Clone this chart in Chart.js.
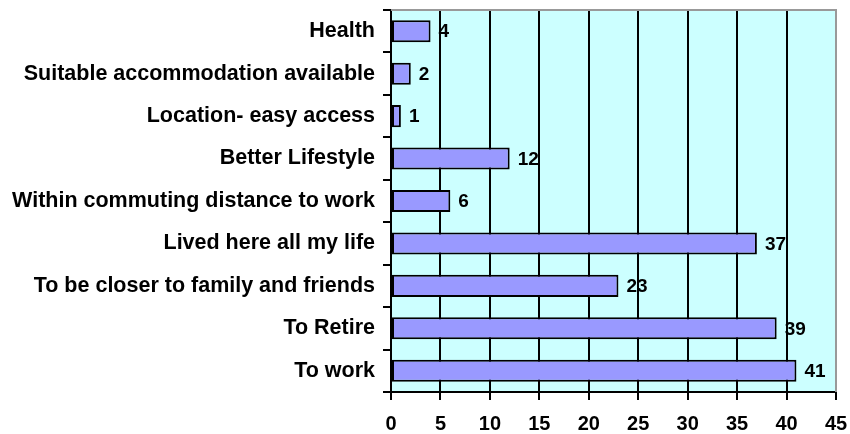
<!DOCTYPE html>
<html><head><meta charset="utf-8">
<script src="https://cdn.jsdelivr.net/npm/chart.js@4"></script>
<style>html,body{margin:0;padding:0;background:#fff}#wrap{width:850px;height:434px}</style>
</head><body><div id="wrap"><canvas id="c" width="850" height="434"></canvas></div>
<script>
const categories = ["Health","Suitable accommodation available","Location- easy access","Better Lifestyle","Within commuting distance to work","Lived here all my life","To be closer to family and friends","To Retire","To work"];
const values = [4,2,1,12,6,37,23,39,41];
const xTicks = [0,5,10,15,20,25,30,35,40,45];

const FONT = "'Liberation Sans', Arial, sans-serif";

const bgPlugin = {
  id: 'bg',
  beforeDraw(chart) {
    const a = chart.chartArea, ctx = chart.ctx;
    ctx.save();
    ctx.fillStyle = '#CCFFFF';
    ctx.fillRect(a.left, a.top, a.right - a.left, a.bottom - a.top);
    ctx.restore();
  },
  afterDraw(chart) {
    const a = chart.chartArea, ctx = chart.ctx;
    ctx.save();
    ctx.strokeStyle = '#999999';
    ctx.lineWidth = 2;
    ctx.beginPath();
    ctx.moveTo(a.left, a.top); ctx.lineTo(a.right, a.top); ctx.lineTo(a.right, a.bottom);
    ctx.stroke();
    const meta = chart.getDatasetMeta(0);
    ctx.fillStyle = '#000';
    ctx.font = 'bold 19px ' + FONT;
    ctx.textBaseline = 'middle';
    ctx.textAlign = 'left';
    meta.data.forEach((bar, i) => {
      ctx.fillText(String(values[i]), bar.x + 8, bar.y + 1);
    });
    ctx.restore();
  }
};

new Chart(document.getElementById('c'), {
  type: 'bar',
  data: {
    labels: categories,
    datasets: [{
      data: values,
      backgroundColor: '#9999FF',
      borderColor: '#000000',
      borderWidth: 2,
      borderSkipped: false,
      categoryPercentage: 1,
      barPercentage: 0.52
    }]
  },
  plugins: [bgPlugin],
  options: {
    indexAxis: 'y',
    responsive: false,
    animation: false,
    layout: { padding: { top: 10, right: 14, left: 0, bottom: 0 } },
    plugins: { legend: { display: false }, tooltip: { enabled: false } },
    scales: {
      x: {
        min: 0, max: 45,
        afterBuildTicks(s) { s.ticks = xTicks.map(v => ({ value: v })); },
        afterFit(s) { s.height = 42; s.paddingLeft = 0; s.paddingRight = 0; },
        ticks: { color: '#000', font: { family: FONT, size: 20, weight: 'bold' }, padding: 12, maxRotation: 0 },
        grid: {
          color: ctx => (ctx.tick && ctx.tick.value === 45) ? '#999999' : '#000000',
          lineWidth: 2,
          tickLength: 8,
          tickColor: '#000000'
        },
        border: { color: '#000', width: 2 }
      },
      y: {
        afterFit(s) { s.width = 391; s.paddingTop = 0; s.paddingBottom = 0; },
        ticks: { color: '#000', font: { family: FONT, size: 21.5, weight: 'bold' }, padding: 8 },
        grid: { drawOnChartArea: false, tickLength: 8, color: '#000', lineWidth: 2 },
        border: { color: '#000', width: 2 }
      }
    }
  }
});
</script></body></html>
